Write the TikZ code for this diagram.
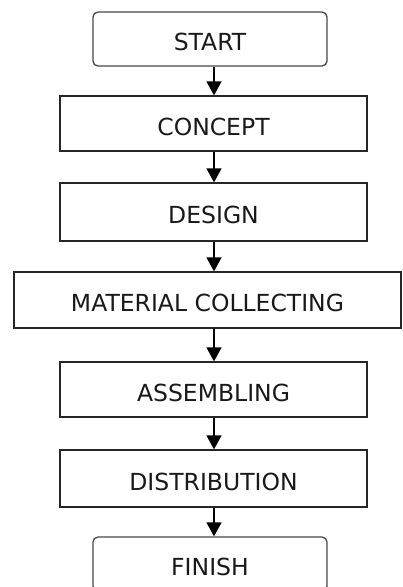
\documentclass[tikz,border=0pt]{standalone}
\usepackage{fontspec}
\setmainfont{DejaVu Sans}
\usetikzlibrary{arrows.meta}
\begin{document}
\begin{tikzpicture}[x=1pt,y=-1pt,
  base/.style={draw=black!85, line width=1.3pt, inner sep=0pt, text=black!90,
    font=\fontsize{23.5}{26}\selectfont, text height=23pt, text depth=0pt},
  termbox/.style={base, rounded corners=5pt, draw=black!72},
  procbox/.style={base, rectangle},
  arr/.style={draw=black, line width=1.3pt, -{Triangle[length=14pt,width=15pt]}}
]
\useasboundingbox (0,0) rectangle (403,587);
\clip (0,0) rectangle (403,587);
\node[termbox, minimum width=234pt, minimum height=54pt] (start) at (210,39) {START};
\node[procbox, minimum width=307pt, minimum height=55pt] (concept) at (213.5,123.5) {CONCEPT};
\node[procbox, minimum width=307pt, minimum height=58pt] (design) at (213.5,212) {DESIGN};
\node[procbox, minimum width=387pt, minimum height=56pt] (material) at (207.5,300) {MATERIAL COLLECTING};
\node[procbox, minimum width=307pt, minimum height=55pt] (assembling) at (213.5,389.5) {ASSEMBLING};
\node[procbox, minimum width=307pt, minimum height=57pt] (distribution) at (213.5,478.5) {DISTRIBUTION};
\node[termbox, minimum width=234pt, minimum height=54pt] (finish) at (210,564) {FINISH};
\coordinate (ax) at (214,0);
\draw[arr] (start.south -| ax) -- (concept.north -| ax);
\draw[arr] (concept.south -| ax) -- (design.north -| ax);
\draw[arr] (design.south -| ax) -- (material.north -| ax);
\draw[arr] (material.south -| ax) -- (assembling.north -| ax);
\draw[arr] (assembling.south -| ax) -- (distribution.north -| ax);
\draw[arr] (distribution.south -| ax) -- (finish.north -| ax);
\end{tikzpicture}
\end{document}
